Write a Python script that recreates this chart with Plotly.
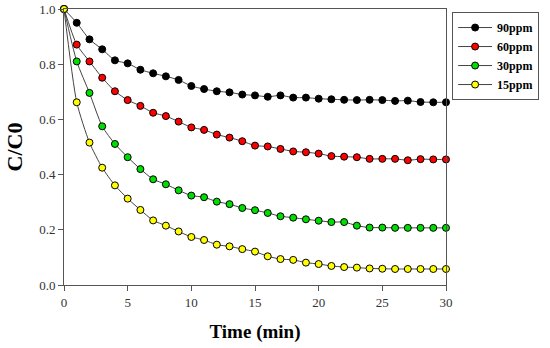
import plotly.graph_objects as go

time_min = list(range(0, 31))

ppm90 = [1.0, 0.950, 0.890, 0.854, 0.814, 0.803, 0.780, 0.767, 0.756, 0.743, 0.721,
         0.710, 0.702, 0.698, 0.690, 0.687, 0.682, 0.687, 0.679, 0.679, 0.675,
         0.673, 0.671, 0.670, 0.671, 0.670, 0.667, 0.668, 0.663, 0.662, 0.662]
ppm60 = [1.0, 0.871, 0.810, 0.751, 0.702, 0.670, 0.649, 0.624, 0.612, 0.592, 0.571,
         0.562, 0.545, 0.534, 0.521, 0.505, 0.502, 0.493, 0.484, 0.481, 0.476,
         0.467, 0.465, 0.463, 0.457, 0.457, 0.457, 0.452, 0.456, 0.455, 0.455]
ppm30 = [1.0, 0.810, 0.696, 0.575, 0.511, 0.463, 0.420, 0.383, 0.365, 0.343, 0.324,
         0.318, 0.302, 0.293, 0.279, 0.271, 0.261, 0.249, 0.244, 0.238, 0.233,
         0.228, 0.228, 0.215, 0.208, 0.208, 0.207, 0.207, 0.207, 0.207, 0.207]
ppm15 = [1.0, 0.662, 0.516, 0.425, 0.361, 0.313, 0.272, 0.234, 0.215, 0.194, 0.174,
         0.163, 0.146, 0.140, 0.130, 0.121, 0.104, 0.094, 0.091, 0.081, 0.076,
         0.069, 0.065, 0.063, 0.060, 0.059, 0.058, 0.058, 0.058, 0.058, 0.058]

series = [("90ppm", ppm90, "#000000"),
          ("60ppm", ppm60, "#ff0000"),
          ("30ppm", ppm30, "#00dd00"),
          ("15ppm", ppm15, "#ffff00")]

x_ticks = [0, 5, 10, 15, 20, 25, 30]
y_ticks = [0.0, 0.2, 0.4, 0.6, 0.8, 1.0]

serif = "Liberation Serif"
axis_color = "#555555"

fig = go.Figure()
for name, vals, col in series:
    fig.add_trace(go.Scatter(
        x=time_min, y=vals, name=name, mode="lines+markers",
        line=dict(color="#444444", width=1, shape="spline", smoothing=0.6),
        marker=dict(color=col, size=7, line=dict(color="#000000", width=1)),
        cliponaxis=False,
    ))

fig.update_layout(
    width=550, height=348,
    margin=dict(l=64, r=104, t=9, b=63, autoexpand=False),
    paper_bgcolor="white", plot_bgcolor="white",
    font=dict(family=serif, color="#222222"),
    showlegend=True,
    legend=dict(
        x=1.016, y=0.989, xanchor="left", yanchor="top",
        bordercolor=axis_color, borderwidth=1, bgcolor="white",
        font=dict(family=serif, size=12, color="#000000", weight="bold"),
        tracegroupgap=0, itemwidth=34,
    ),
    xaxis=dict(
        range=[0, 30], tickvals=x_ticks, ticks="outside", ticklen=5,
        tickcolor=axis_color, showline=True, linecolor=axis_color, linewidth=1,
        mirror=True, showgrid=False, zeroline=False,
        tickfont=dict(family=serif, size=13, color="#333333"),
        title=dict(text="<b>Time (min)</b>", font=dict(family=serif, size=19, color="#000000"), standoff=16),
    ),
    yaxis=dict(
        range=[0, 1], tickvals=y_ticks, tickformat=".1f", ticks="outside", ticklen=5,
        tickcolor=axis_color, showline=True, linecolor=axis_color, linewidth=1,
        mirror=True, showgrid=False, zeroline=False,
        tickfont=dict(family=serif, size=13, color="#333333"),
        title=dict(text="<b>C/C0</b>", font=dict(family=serif, size=22, color="#000000"), standoff=10),
    ),
)

fig.write_html("out.html", config={"displayModeBar": False},
               post_script="document.body.style.margin='0';")
